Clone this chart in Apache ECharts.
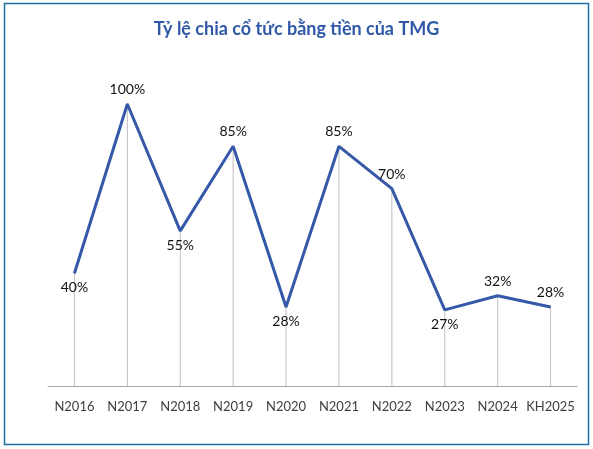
<!DOCTYPE html>
<html><head><meta charset="utf-8">
<script src="https://cdn.jsdelivr.net/npm/echarts@6/dist/echarts.min.js"></script>
<style>html,body{margin:0;padding:0;background:#fff}#c{width:593px;height:449px}</style>
</head><body><div id="c"></div>
<script>
const categories = ['N2016','N2017','N2018','N2019','N2020','N2021','N2022','N2023','N2024','KH2025'];
const payoutRatio = [0.40, 1.00, 0.55, 0.85, 0.28, 0.85, 0.70, 0.27, 0.32, 0.28];
const labelPositions = ['bottom','top','bottom','top','bottom','top','top','bottom','top','top'];
const titleText = 'Tỷ lệ chia cổ tức bằng tiền của TMG';

const chart = echarts.init(document.getElementById('c'), null, {renderer:'canvas'});
const fontFam = 'Lato, "Open Sans", sans-serif';
chart.setOption({
  animation:false,
  backgroundColor:'#fff',
  title:{text:titleText,left:'center',top:15,textStyle:{color:'#2F59A8',fontSize:18,fontWeight:'bold',fontFamily:fontFam}},
  graphic:[{type:'rect',shape:{x:4.5,y:3.5,width:584,height:441},style:{fill:'none',stroke:'#1F6FA0',lineWidth:1.5},silent:true}],
  grid:{left:48,right:16,top:104,bottom:63,containLabel:false},
  xAxis:{type:'category',data:categories,boundaryGap:true,
    axisLine:{lineStyle:{color:'#a6a6a6',width:1}},axisTick:{show:false},
    axisLabel:{interval:0,color:'#404040',fontSize:13,fontFamily:fontFam,margin:14}},
  yAxis:{type:'value',min:0,max:1,show:false,splitLine:{show:false}},
  series:[
    {type:'bar',data:payoutRatio,barWidth:1,itemStyle:{color:'#bfbfbf'},silent:true,z:1},
    {type:'line',data:payoutRatio.map((v,i)=>({value:v,label:{position:labelPositions[i]}})),
     symbol:'circle',symbolSize:1,showSymbol:true,itemStyle:{color:'#3558A8'},
     lineStyle:{color:'#3558A8',width:3},z:3,
     label:{show:true,distance:7,color:'#111',fontSize:14,fontFamily:fontFam,
       formatter:p=>Math.round(p.value*100)+'%'}}
  ]
});
</script></body></html>
